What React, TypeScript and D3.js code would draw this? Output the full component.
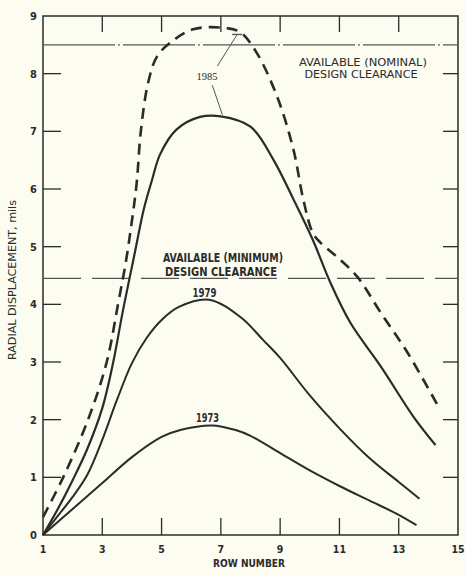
import React from "react";
import * as d3 from "d3";

const W = 465;
const H = 576;

const xTicks = [1, 3, 5, 7, 9, 11, 13, 15];
const yTicks = [0, 1, 2, 3, 4, 5, 6, 7, 8, 9];

const x1973 = [1, 2, 3, 4, 5, 5.63, 6.7, 7.5, 8, 9, 10, 11, 12, 13, 13.6];
const y1973 = [0, 0.45, 0.9, 1.35, 1.7, 1.82, 1.9, 1.82, 1.72, 1.42, 1.12, 0.85, 0.6, 0.35, 0.17];

const x1979 = [1, 1.5, 2, 2.5, 3, 3.5, 4, 4.5, 5, 5.6, 6.6, 7.66, 8.43, 9, 10, 11, 12, 13, 13.7];
const y1979 = [0, 0.33, 0.66, 1.05, 1.65, 2.35, 2.98, 3.42, 3.73, 3.96, 4.08, 3.78, 3.38, 3.07, 2.42, 1.85, 1.34, 0.92, 0.63];

const x1985 = [1, 1.5, 2, 2.5, 3, 3.37, 3.7, 4.08, 4.4, 4.68, 4.95, 5.5, 6.3, 7.0, 8.0, 8.77, 9.45, 10.1, 10.7, 11.37, 12.4, 13.5, 14.24];
const y1985 = [0, 0.45, 0.95, 1.5, 2.2, 3.0, 3.9, 4.85, 5.65, 6.16, 6.6, 7.03, 7.25, 7.26, 7.08, 6.51, 5.82, 5.12, 4.37, 3.68, 2.92, 2.05, 1.56];

const x1985max = [1, 1.68, 2.52, 3.15, 3.53, 3.8, 4.0, 4.16, 4.3, 4.55, 4.85, 5.4, 6.07, 7.0, 7.65, 8.2, 8.9, 9.45, 9.78, 10.1, 10.36, 10.9, 11.6, 12.4, 13.3, 14.4];
const y1985max = [0.31, 1, 2, 3, 4, 4.75, 5.45, 6.1, 7.0, 7.85, 8.3, 8.58, 8.77, 8.8, 8.72, 8.37, 7.6, 6.68, 5.82, 5.24, 5.07, 4.83, 4.48, 3.85, 3.16, 2.17];

const nominalClearance = 8.5;
const minimumClearance = 4.45;

const ink = "#2b2b2b";
const font = "'DejaVu Sans Condensed', 'Liberation Sans Narrow', sans-serif";

export default function App() {
  const x = d3.scaleLinear().domain([1, 15]).range([43, 458]);
  const y = d3.scaleLinear().domain([0, 9]).range([535, 16]);

  const line = d3
    .line<[number, number]>()
    .x((d) => x(d[0]))
    .y((d) => y(d[1]))
    .curve(d3.curveCatmullRom.alpha(0.5));

  const zip = (a: number[], b: number[]) => a.map((v, i) => [v, b[i]] as [number, number]);

  return (
    <svg
      width={W}
      height={H}
      style={{ position: "absolute", left: 0, top: 0, background: "#fcfcf1" }}
    >
      <rect x={0} y={0} width={W} height={H} fill="#fcfcf1" />
      {/* frame */}
      <rect x={x(1)} y={y(9)} width={x(15) - x(1)} height={y(0) - y(9)} fill="none" stroke={ink} strokeWidth={1.5} />

      {/* bottom ticks & top ticks */}
      {xTicks.slice(1, -1).map((t) => (
        <g key={"xt" + t}>
          <line x1={x(t)} x2={x(t)} y1={y(0)} y2={y(0) - 17} stroke={ink} strokeWidth={1.3} />
          <line x1={x(t)} x2={x(t)} y1={y(9)} y2={y(9) + 16} stroke={ink} strokeWidth={1.3} />
        </g>
      ))}
      {xTicks.map((t) => (
        <text key={"xl" + t} x={x(t)} y={553} textAnchor="middle" fontFamily={font} fontWeight="bold" fontSize={10.5} fill={ink}>
          {t}
        </text>
      ))}

      {/* left & right ticks */}
      {yTicks.slice(1, -1).map((t) => (
        <g key={"yt" + t}>
          <line x1={x(1)} x2={x(1) + 18} y1={y(t)} y2={y(t)} stroke={ink} strokeWidth={1.3} />
          <line x1={x(15)} x2={x(15) - 15} y1={y(t)} y2={y(t)} stroke={ink} strokeWidth={1.3} />
        </g>
      ))}
      {yTicks.map((t) => (
        <text key={"yl" + t} x={37} y={y(t) + 4} textAnchor="end" fontFamily={font} fontWeight="bold" fontSize={11} fill={ink}>
          {t}
        </text>
      ))}

      {/* clearance lines */}
      <line x1={x(1)} x2={x(15)} y1={y(nominalClearance)} y2={y(nominalClearance)} stroke="#555" strokeWidth={1.2} strokeDasharray="72 3 2 3" />
      <line x1={x(1)} x2={x(15)} y1={y(minimumClearance)} y2={y(minimumClearance)} stroke="#555" strokeWidth={1.3} strokeDasharray="38 11" />

      {/* curves */}
      <path d={line(zip(x1973, y1973)) || ""} fill="none" stroke={ink} strokeWidth={2} />
      <path d={line(zip(x1979, y1979)) || ""} fill="none" stroke={ink} strokeWidth={2} />
      <path d={line(zip(x1985, y1985)) || ""} fill="none" stroke={ink} strokeWidth={2.2} />
      <path d={line(zip(x1985max, y1985max)) || ""} fill="none" stroke={ink} strokeWidth={2.6} strokeDasharray="11 7" />

      {/* labels */}
      <text x={x(6.53)} y={80} textAnchor="middle" fontFamily="'Liberation Serif', serif" fontSize={10.5} fill={ink}>1985</text>
      <line x1={x(6.88)} y1={y(8.13)} x2={x(7.55)} y2={y(8.68)} stroke="#555" strokeWidth={1} />
      <line x1={x(7.55) - 5} y1={y(8.68)} x2={x(7.55) + 5} y2={y(8.68)} stroke="#555" strokeWidth={1.4} />
      <line x1={x(6.71)} y1={y(7.8)} x2={x(7.05)} y2={y(7.29)} stroke="#555" strokeWidth={1} />

      <text x={x(6.45)} y={y(4.1) - 2} textAnchor="middle" fontFamily={font} fontWeight="bold" fontSize={11.5} fill={ink} textLength={24} lengthAdjust="spacingAndGlyphs">1979</text>
      <text x={x(6.55)} y={y(1.9) - 3} textAnchor="middle" fontFamily={font} fontWeight="bold" fontSize={12.5} fill={ink} textLength={23} lengthAdjust="spacingAndGlyphs">1973</text>

      <text x={363} y={66} textAnchor="middle" fontFamily={font} fontSize={11} fill={ink} textLength={128} lengthAdjust="spacingAndGlyphs">AVAILABLE (NOMINAL)</text>
      <text x={361} y={78} textAnchor="middle" fontFamily={font} fontSize={11} fill={ink} textLength={113} lengthAdjust="spacingAndGlyphs">DESIGN CLEARANCE</text>

      <text x={223} y={262} textAnchor="middle" fontFamily={font} fontWeight="bold" fontSize={12.5} fill={ink} textLength={120} lengthAdjust="spacingAndGlyphs">AVAILABLE (MINIMUM)</text>
      <text x={221} y={276} textAnchor="middle" fontFamily={font} fontWeight="bold" fontSize={12.5} fill={ink} textLength={112} lengthAdjust="spacingAndGlyphs">DESIGN CLEARANCE</text>

      <text x={249} y={567} textAnchor="middle" fontFamily={font} fontWeight="bold" fontSize={11} fill={ink} textLength={72} lengthAdjust="spacingAndGlyphs">ROW NUMBER</text>
      <text transform="translate(16,280) rotate(-90)" textAnchor="middle" fontFamily={font} fontSize={10} fill={ink} textLength={160} lengthAdjust="spacingAndGlyphs">RADIAL DISPLACEMENT, mils</text>
    </svg>
  );
}
